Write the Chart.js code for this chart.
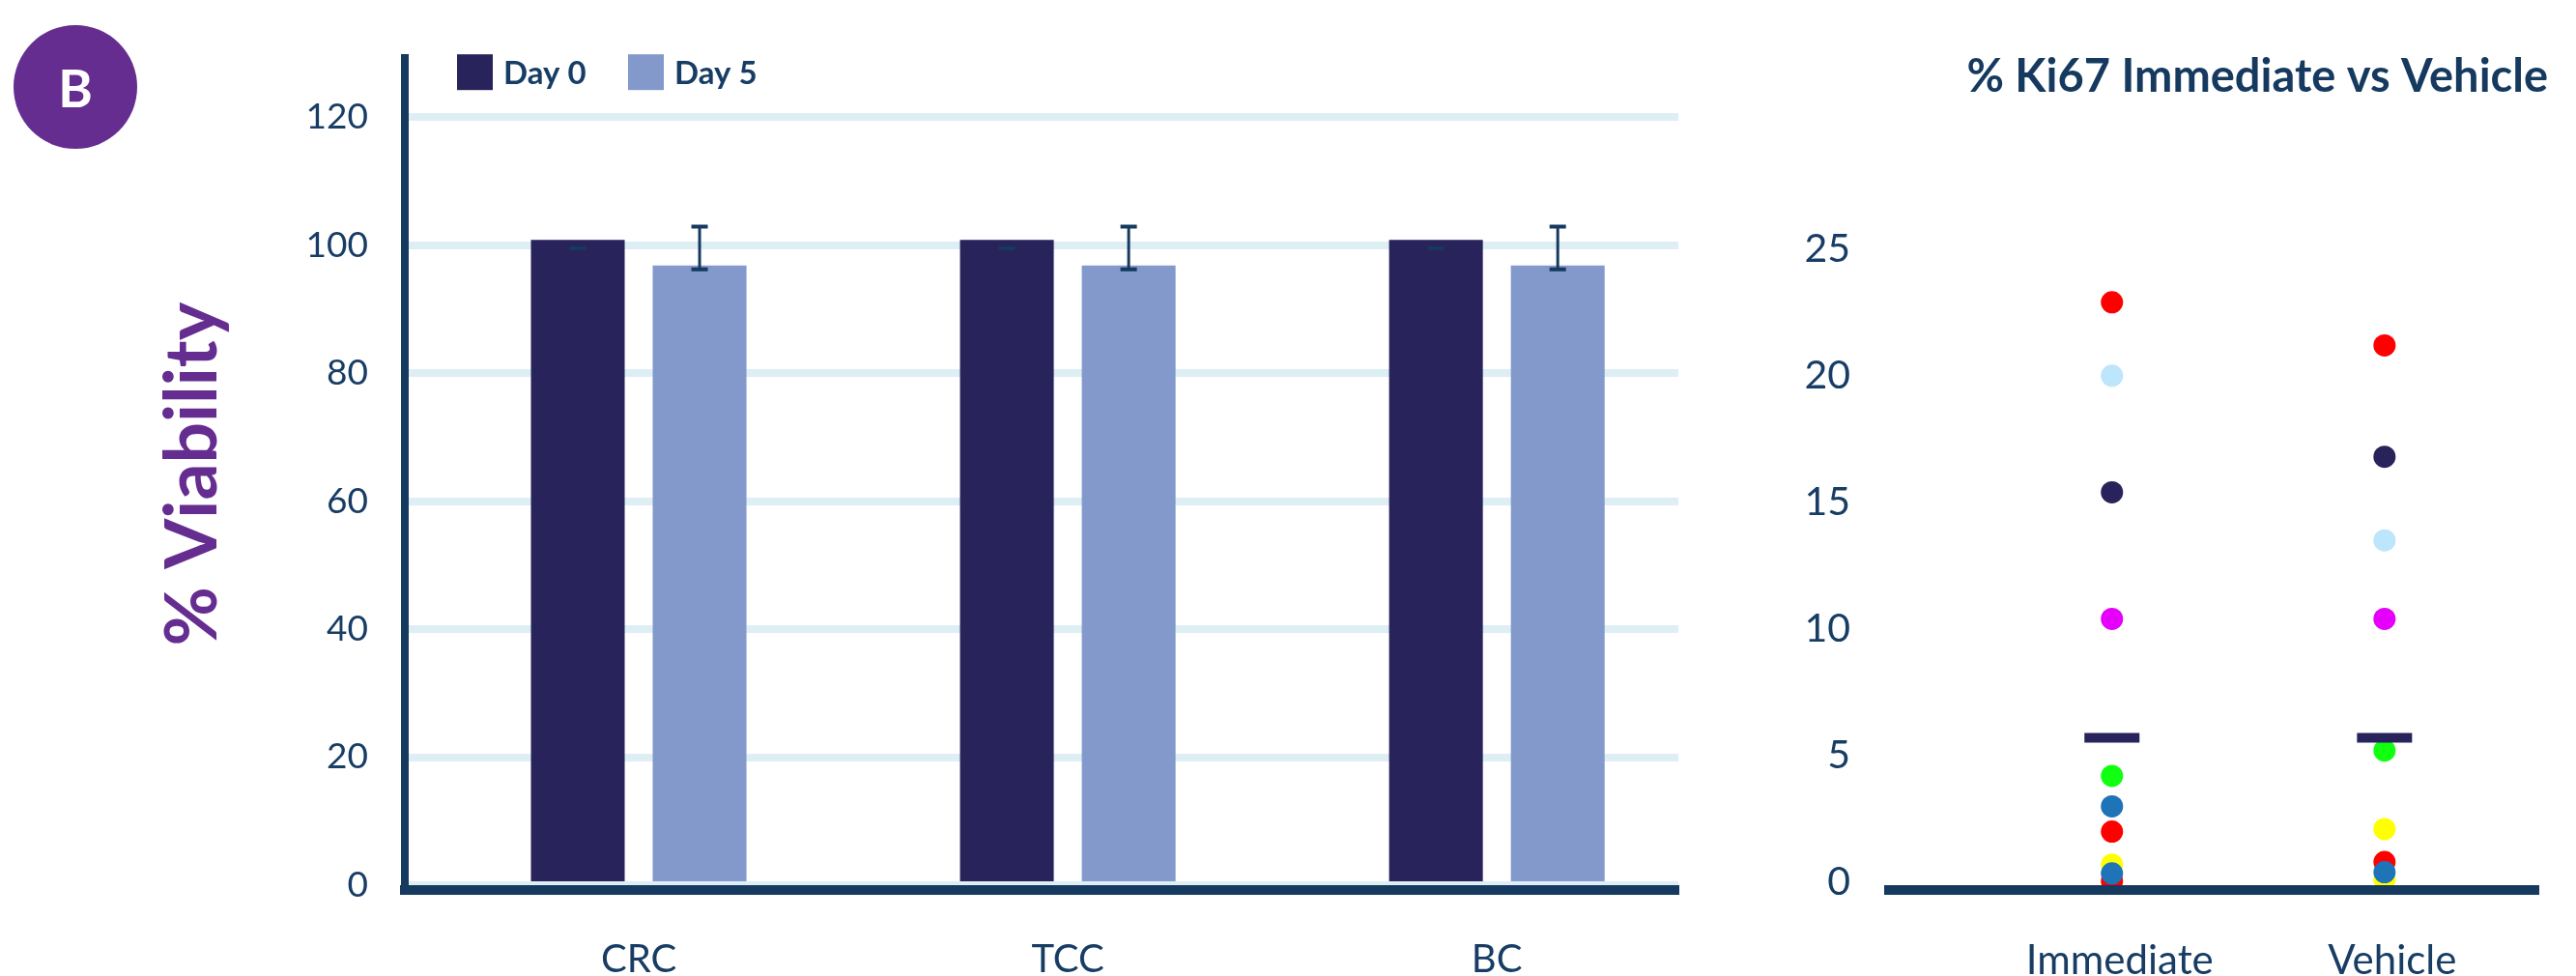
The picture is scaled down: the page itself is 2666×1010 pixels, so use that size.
<!DOCTYPE html>
<html>
<head>
<meta charset="utf-8">
<script src="https://cdn.jsdelivr.net/npm/chart.js@4.4.1/dist/chart.umd.min.js"></script>
<style>
  html, body { margin: 0; padding: 0; background: #fff; }
  #wrap { position: relative; width: 2666px; height: 1010px; overflow: hidden; }
  #badge {
    position: absolute; left: 14px; top: 26px; width: 128px; height: 128px;
    border-radius: 50%; background: #662D91; color: #fff;
    font: 700 54px Lato, sans-serif;
    display: flex; align-items: center; justify-content: center;
  }
  #leftChart { position: absolute; left: 0; top: 0; }
  #rightChart { position: absolute; left: 1780px; top: 0; }
</style>
</head>
<body>
<div id="wrap">
  <div id="badge">B</div>
  <canvas id="leftChart" width="1780" height="1010"></canvas>
  <canvas id="rightChart" width="886" height="1010"></canvas>
</div>
<script>
// viability bar chart
const categories = ['CRC', 'TCC', 'BC'];
const day0 = [100.8, 100.8, 100.8];
const day5 = [96.8, 96.8, 96.8];
const day0ErrLow = [99.5, 99.5, 99.5];
const day0ErrHigh = [99.5, 99.5, 99.5];
const day5ErrLow = [96.2, 96.2, 96.2];
const day5ErrHigh = [102.9, 102.9, 102.9];
const viabilityTicks = [0, 20, 40, 60, 80, 100, 120];

// Ki67 dot plot
const groups = ['Immediate', 'Vehicle'];
const immediateKi67 = [22.9, 20.0, 15.4, 10.4, 4.2, 3.0, 2.0, 0.7, 0.05, 0.35];
const immediateColors = ['#FF0000', '#BDE5FB', '#29235C', '#E400FA', '#11FF11', '#1F73B7', '#FF0000', '#FFFF00', '#FF0000', '#1F73B7'];
const vehicleKi67 = [21.2, 16.8, 13.5, 10.4, 5.2, 2.1, 0.8, 0.1, 0.4];
const vehicleColors = ['#FF0000', '#29235C', '#BDE5FB', '#E400FA', '#11FF11', '#FFFF00', '#FF0000', '#FFFF00', '#1F73B7'];
const ki67Means = [5.7, 5.7];
const ki67Ticks = [0, 5, 10, 15, 20, 25];

const navy = '#183d65';
const axisColor = '#163a5f';

const errorBars = {
  id: 'errorBars',
  afterDatasetsDraw(chart) {
    const ctx = chart.ctx;
    const y = chart.scales.y;
    ctx.save();
    ctx.strokeStyle = axisColor;
    chart.data.datasets.forEach((ds, di) => {
      chart.getDatasetMeta(di).data.forEach((bar, i) => {
        const lo = y.getPixelForValue(ds.errLow[i]);
        const hi = y.getPixelForValue(ds.errHigh[i]);
        ctx.lineWidth = 3;
        ctx.beginPath();
        ctx.moveTo(bar.x, lo);
        ctx.lineTo(bar.x, hi);
        ctx.stroke();
        ctx.lineWidth = 4;
        ctx.beginPath();
        ctx.moveTo(bar.x - 8.5, lo); ctx.lineTo(bar.x + 8.5, lo);
        ctx.moveTo(bar.x - 8.5, hi); ctx.lineTo(bar.x + 8.5, hi);
        ctx.stroke();
      });
    });
    ctx.restore();
  }
};

const boxLegend = {
  id: 'boxLegend',
  afterDraw(chart) {
    const ctx = chart.ctx;
    const a = chart.chartArea;
    let x = a.left + 54;
    const top = a.top - 4;
    ctx.save();
    ctx.font = '700 33px Lato';
    ctx.textBaseline = 'middle';
    chart.data.datasets.forEach(ds => {
      ctx.fillStyle = ds.backgroundColor;
      ctx.fillRect(x, top, 37, 37);
      ctx.fillStyle = navy;
      ctx.fillText(ds.label, x + 48, top + 20);
      x += 177;
    });
    ctx.restore();
  }
};

new Chart(document.getElementById('leftChart'), {
  type: 'bar',
  data: {
    datasets: [
      { label: 'Day 0', data: categories.map((c, i) => ({ x: i, y: day0[i] })), backgroundColor: '#29235C', errLow: day0ErrLow, errHigh: day0ErrHigh },
      { label: 'Day 5', data: categories.map((c, i) => ({ x: i, y: day5[i] })), backgroundColor: '#8399CB', errLow: day5ErrLow, errHigh: day5ErrHigh }
    ]
  },
  options: {
    responsive: false,
    animation: false,
    events: [],
    layout: { padding: { top: 60, right: 43, left: 0, bottom: 0 } },
    datasets: { bar: { categoryPercentage: 0.5676, barPercentage: 0.77 } },
    plugins: { legend: { display: false }, tooltip: { enabled: false } },
    scales: {
      x: {
        type: 'linear', min: -0.545, max: 2.423, offset: false,
        grid: { display: false, offset: false },
        border: { color: axisColor, width: 10, z: 1 },
        afterBuildTicks: s => { s.ticks = categories.map((c, i) => ({ value: i })); },
        afterFit: s => { s.height = 89; },
        ticks: { color: navy, font: { family: 'Lato', size: 40 }, padding: 40, callback: v => categories[v] ?? '' }
      },
      y: {
        min: -0.75, max: 129.2,
        grid: { color: '#DDEEF5', lineWidth: 8, drawTicks: false },
        border: { color: axisColor, width: 8, z: 1 },
        afterBuildTicks: s => { s.ticks = viabilityTicks.map(v => ({ value: v })); },
        afterFit: s => { s.width = 419; },
        ticks: { color: navy, font: { family: 'Lato', size: 37 }, padding: 38 },
        title: {
          display: true, text: '% Viability', color: '#662D91',
          font: { family: 'Lato', size: 75, weight: 700 },
          padding: { top: 155, bottom: 0 }
        }
      }
    }
  },
  plugins: [errorBars, boxLegend]
});

new Chart(document.getElementById('rightChart'), {
  type: 'scatter',
  data: {
    datasets: [
      { label: 'Mean', data: groups.map((g, i) => ({ x: i, y: ki67Means[i] })), pointStyle: 'line', pointRadius: 28.5, pointBorderWidth: 10, pointBorderColor: '#29235C', pointBackgroundColor: '#29235C', order: 0, clip: false },
      { label: 'Immediate', data: immediateKi67.map(v => ({ x: 0, y: v })), pointRadius: 11.5, pointBorderWidth: 0, pointBackgroundColor: immediateColors, order: 1, clip: false },
      { label: 'Vehicle', data: vehicleKi67.map(v => ({ x: 1, y: v })), pointRadius: 11.5, pointBorderWidth: 0, pointBackgroundColor: vehicleColors, order: 1, clip: false }
    ]
  },
  options: {
    responsive: false,
    animation: false,
    events: [],
    layout: { padding: { top: 0, right: 29, left: 0, bottom: 0 } },
    plugins: {
      legend: { display: false },
      tooltip: { enabled: false },
      title: {
        display: true, text: '% Ki67 Immediate vs Vehicle', align: 'end', color: axisColor,
        font: { family: 'Lato', size: 47, weight: 700 },
        padding: { top: 52, bottom: 97 }
      }
    },
    scales: {
      x: {
        type: 'linear', min: -0.818, max: 1.566,
        grid: { display: false },
        border: { color: axisColor, width: 10, z: 1 },
        afterBuildTicks: s => { s.ticks = groups.map((g, i) => ({ value: i })); },
        afterFit: s => { s.height = 89; },
        ticks: { color: navy, font: { family: 'Lato', size: 42 }, padding: 40, labelOffset: 8, callback: v => groups[v] ?? '' }
      },
      y: {
        min: -0.305, max: 27,
        grid: { display: false },
        border: { display: false },
        afterBuildTicks: s => { s.ticks = ki67Ticks.map(v => ({ value: v })); },
        afterFit: s => { s.width = 175; },
        ticks: { color: navy, font: { family: 'Lato', size: 41 }, padding: 32 }
      }
    }
  }
});
</script>
</body>
</html>
